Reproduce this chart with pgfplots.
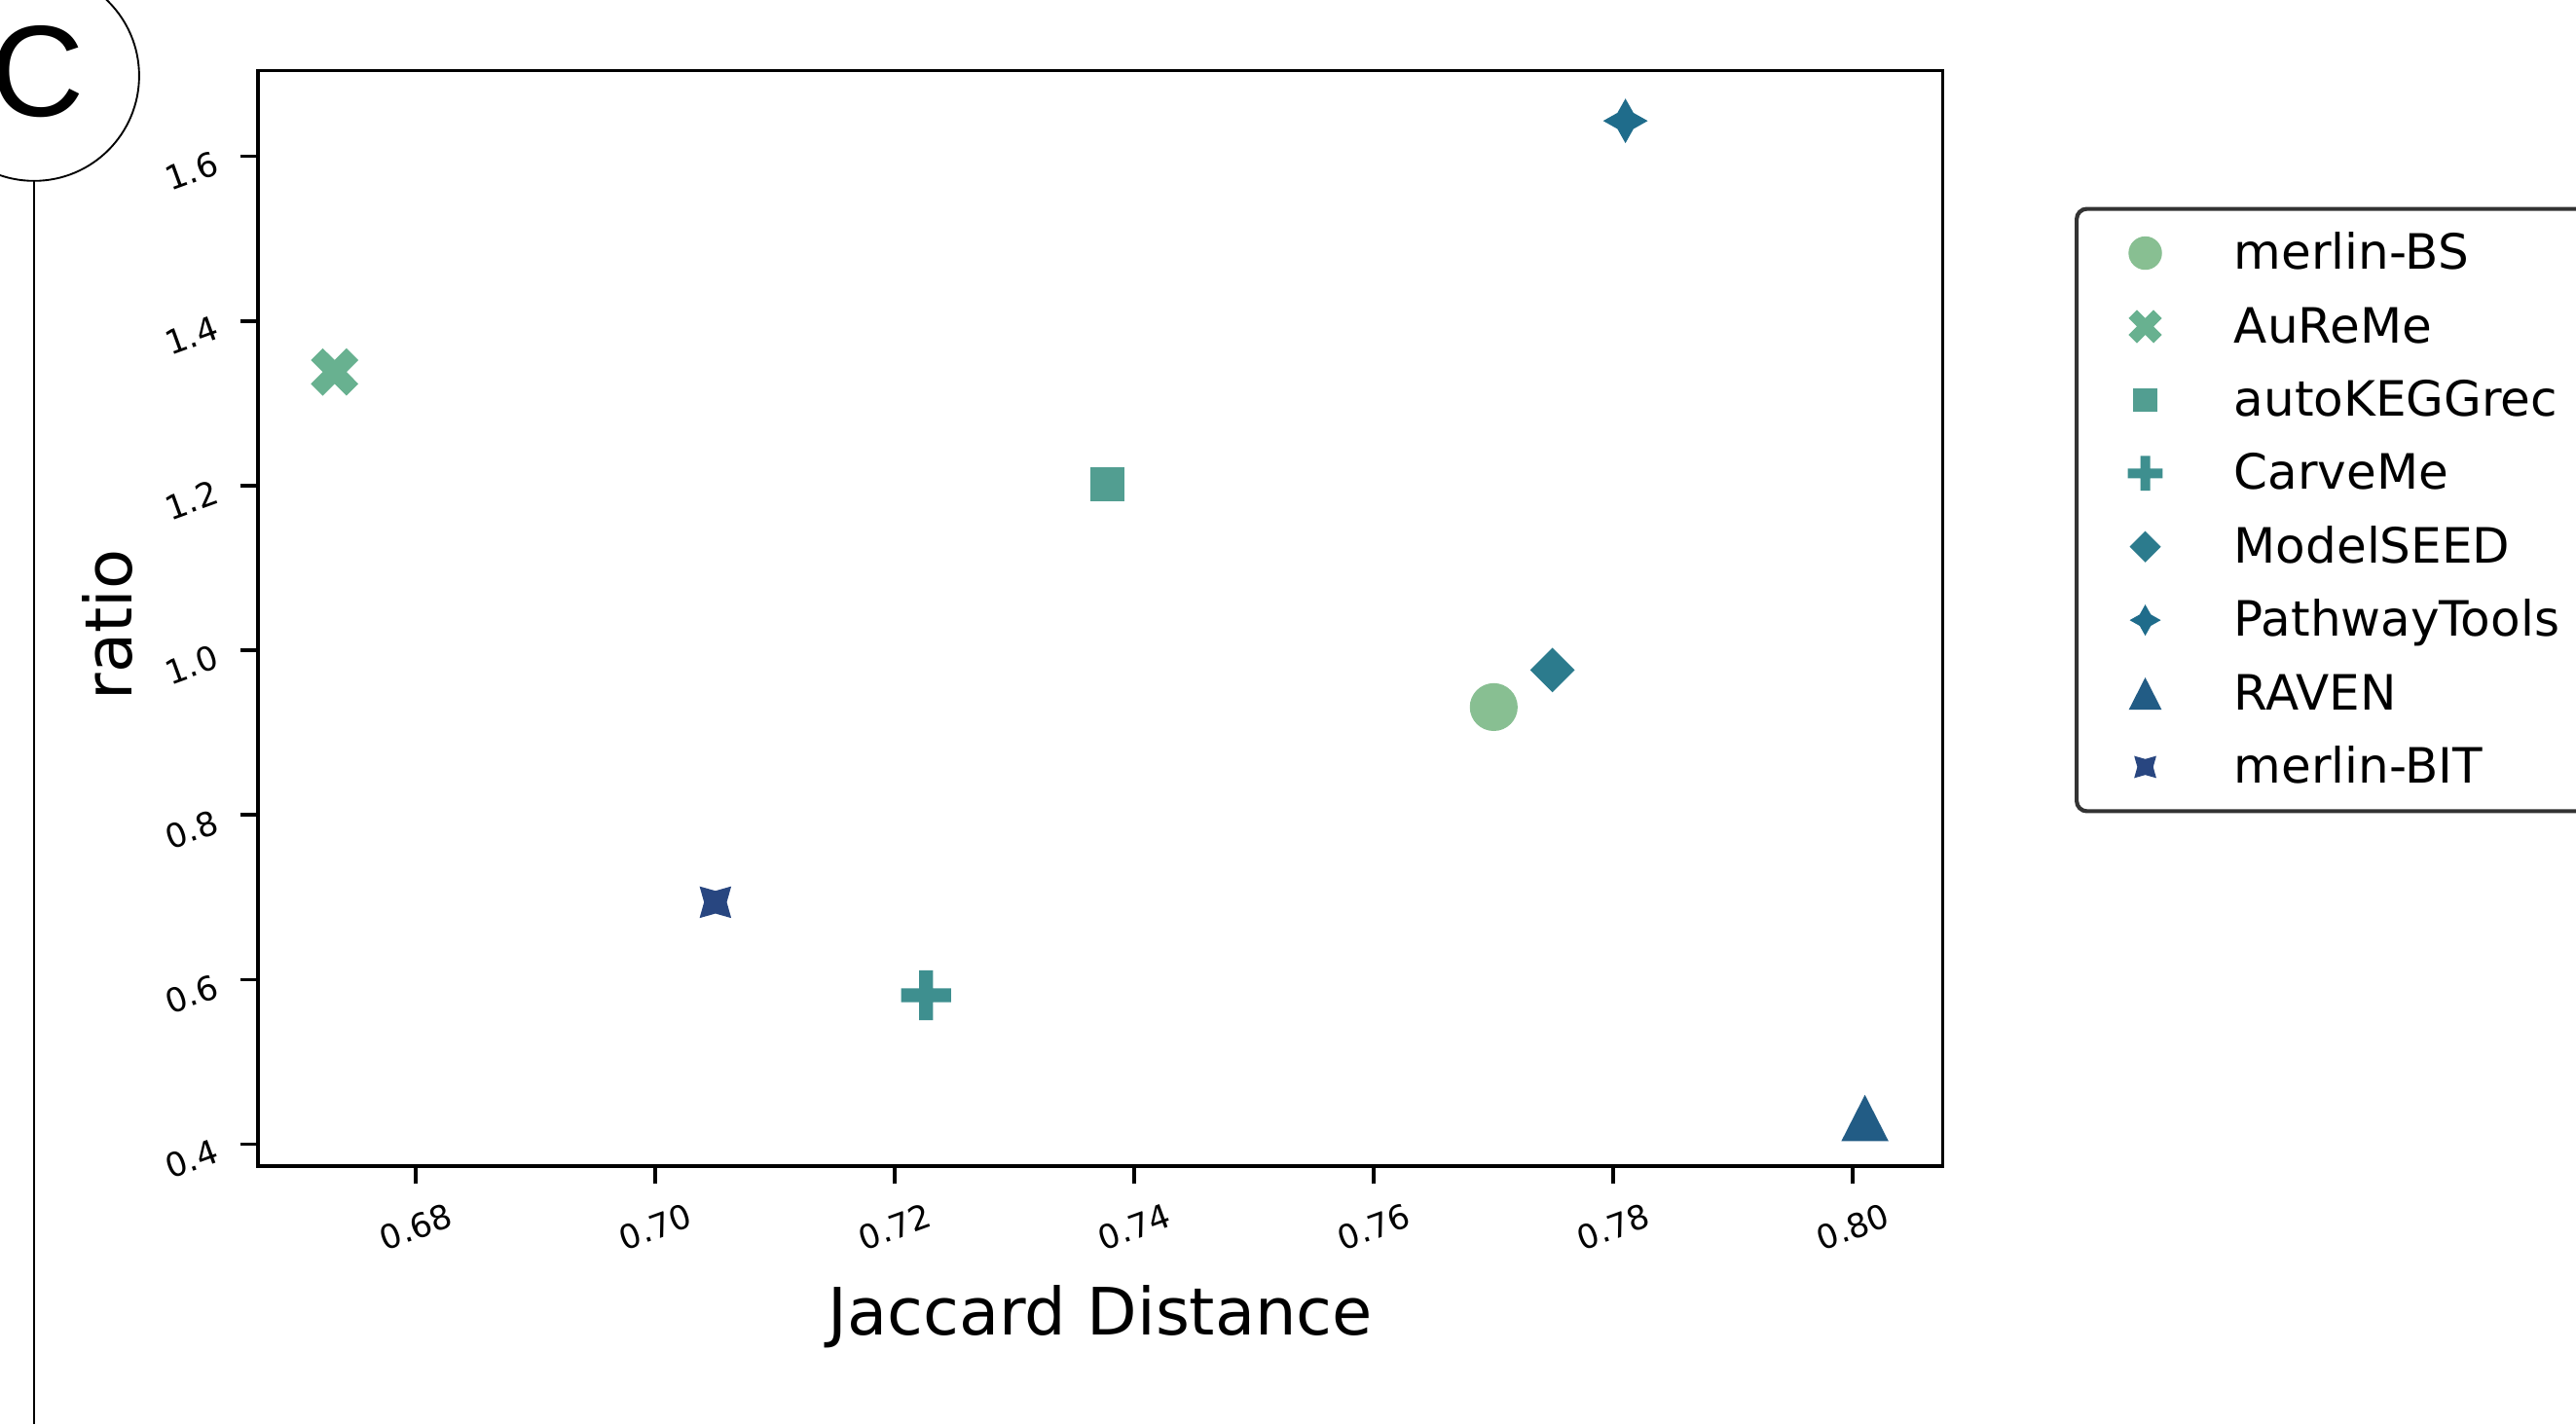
\documentclass[border=0pt]{standalone}
\usepackage{fontspec}
\setmainfont{DejaVu Sans}
\newfontfamily\panelfont{Liberation Sans}
\usepackage{pgfplots}
\pgfplotsset{compat=1.18}

\definecolor{cBS}{HTML}{88BF92}
\definecolor{cAuReMe}{HTML}{68B190}
\definecolor{cKEGG}{HTML}{529E91}
\definecolor{cCarve}{HTML}{3E8F8F}
\definecolor{cSEED}{HTML}{2C7B8D}
\definecolor{cPath}{HTML}{1F6C8B}
\definecolor{cRaven}{HTML}{225C85}
\definecolor{cBIT}{HTML}{284680}

% seaborn-like filled markers
\pgfdeclareplotmark{mdot}{\pgfsetcornersarced{\pgfpointorigin}%
  \pgfpathcircle{\pgfpointorigin}{5.9pt}\pgfusepathqfill}
\pgfdeclareplotmark{msquare}{\pgfsetcornersarced{\pgfpointorigin}%
  \pgfpathrectangle{\pgfqpoint{-4.2pt}{-4.2pt}}{\pgfqpoint{8.4pt}{8.4pt}}\pgfusepathqfill}
\pgfdeclareplotmark{mxfill}{\pgfsetcornersarced{\pgfpointorigin}%
  \pgfpathmoveto{\pgfqpoint{-2.93pt}{-5.85pt}}%
  \pgfpathlineto{\pgfqpoint{0pt}{-2.93pt}}%
  \pgfpathlineto{\pgfqpoint{2.93pt}{-5.85pt}}%
  \pgfpathlineto{\pgfqpoint{5.85pt}{-2.93pt}}%
  \pgfpathlineto{\pgfqpoint{2.93pt}{0pt}}%
  \pgfpathlineto{\pgfqpoint{5.85pt}{2.93pt}}%
  \pgfpathlineto{\pgfqpoint{2.93pt}{5.85pt}}%
  \pgfpathlineto{\pgfqpoint{0pt}{2.93pt}}%
  \pgfpathlineto{\pgfqpoint{-2.93pt}{5.85pt}}%
  \pgfpathlineto{\pgfqpoint{-5.85pt}{2.93pt}}%
  \pgfpathlineto{\pgfqpoint{-2.93pt}{0pt}}%
  \pgfpathlineto{\pgfqpoint{-5.85pt}{-2.93pt}}%
  \pgfpathclose\pgfusepathqfill}
\pgfdeclareplotmark{mplus}{\pgfsetcornersarced{\pgfpointorigin}%
  \pgfpathmoveto{\pgfqpoint{-1.7pt}{-6.15pt}}%
  \pgfpathlineto{\pgfqpoint{1.7pt}{-6.15pt}}%
  \pgfpathlineto{\pgfqpoint{1.7pt}{-1.7pt}}%
  \pgfpathlineto{\pgfqpoint{6.15pt}{-1.7pt}}%
  \pgfpathlineto{\pgfqpoint{6.15pt}{1.7pt}}%
  \pgfpathlineto{\pgfqpoint{1.7pt}{1.7pt}}%
  \pgfpathlineto{\pgfqpoint{1.7pt}{6.15pt}}%
  \pgfpathlineto{\pgfqpoint{-1.7pt}{6.15pt}}%
  \pgfpathlineto{\pgfqpoint{-1.7pt}{1.7pt}}%
  \pgfpathlineto{\pgfqpoint{-6.15pt}{1.7pt}}%
  \pgfpathlineto{\pgfqpoint{-6.15pt}{-1.7pt}}%
  \pgfpathlineto{\pgfqpoint{-1.7pt}{-1.7pt}}%
  \pgfpathclose\pgfusepathqfill}
\pgfdeclareplotmark{mdiamond}{\pgfsetcornersarced{\pgfpointorigin}%
  \pgfpathmoveto{\pgfqpoint{0pt}{-5.5pt}}%
  \pgfpathlineto{\pgfqpoint{5.5pt}{0pt}}%
  \pgfpathlineto{\pgfqpoint{0pt}{5.5pt}}%
  \pgfpathlineto{\pgfqpoint{-5.5pt}{0pt}}%
  \pgfpathclose\pgfusepathqfill}
\pgfdeclareplotmark{mstar}{\pgfsetcornersarced{\pgfpointorigin}%
  \pgfpathmoveto{\pgfqpoint{0pt}{-5.5pt}}%
  \pgfpathlineto{\pgfqpoint{1.98pt}{-1.98pt}}%
  \pgfpathlineto{\pgfqpoint{5.5pt}{0pt}}%
  \pgfpathlineto{\pgfqpoint{1.98pt}{1.98pt}}%
  \pgfpathlineto{\pgfqpoint{0pt}{5.5pt}}%
  \pgfpathlineto{\pgfqpoint{-1.98pt}{1.98pt}}%
  \pgfpathlineto{\pgfqpoint{-5.5pt}{0pt}}%
  \pgfpathlineto{\pgfqpoint{-1.98pt}{-1.98pt}}%
  \pgfpathclose\pgfusepathqfill}
\pgfdeclareplotmark{mstarx}{\pgfsetcornersarced{\pgfpointorigin}%
  \pgfpathmoveto{\pgfqpoint{-3.9pt}{-3.9pt}}%
  \pgfpathlineto{\pgfqpoint{0pt}{-2.8pt}}%
  \pgfpathlineto{\pgfqpoint{3.9pt}{-3.9pt}}%
  \pgfpathlineto{\pgfqpoint{2.8pt}{0pt}}%
  \pgfpathlineto{\pgfqpoint{3.9pt}{3.9pt}}%
  \pgfpathlineto{\pgfqpoint{0pt}{2.8pt}}%
  \pgfpathlineto{\pgfqpoint{-3.9pt}{3.9pt}}%
  \pgfpathlineto{\pgfqpoint{-2.8pt}{0pt}}%
  \pgfpathclose\pgfusepathqfill}
\pgfdeclareplotmark{mtri}{\pgfsetcornersarced{\pgfpointorigin}%
  \pgfpathmoveto{\pgfqpoint{0pt}{5.7pt}}%
  \pgfpathlineto{\pgfqpoint{-5.8pt}{-5.7pt}}%
  \pgfpathlineto{\pgfqpoint{5.8pt}{-5.7pt}}%
  \pgfpathclose\pgfusepathqfill}

\begin{document}
\begin{tikzpicture}
\useasboundingbox (0,0) rectangle (635pt,351.1pt);
\clip (0,0) rectangle (635pt,351.1pt);

% panel label
\draw[line width=0.45pt] (8.4pt,332.4pt) circle[radius=25.9pt];
\draw[line width=0.45pt] (8.4pt,306.5pt) -- (8.4pt,0pt);
\node[inner sep=0pt, anchor=center] at (9.2pt,333.5pt) {\panelfont\fontsize{32}{32}\selectfont C};

\begin{axis}[
  at={(63.6pt,63.6pt)}, anchor=south west,
  scale only axis, width=415.3pt, height=270.1pt,
  xmin=0.6668, xmax=0.8075, ymin=0.3735, ymax=1.7041,
  axis line style={line width=0.8pt},
  tick align=outside, xtick pos=lower, ytick pos=left,
  major tick length=4.4pt,
  tick style={line width=0.9pt, black},
  xtick={0.68,0.70,0.72,0.74,0.76,0.78,0.80},
  xticklabels={0.68,0.70,0.72,0.74,0.76,0.78,0.80},
  ytick={0.4,0.6,0.8,1.0,1.2,1.4,1.6},
  yticklabels={0.4,0.6,0.8,1.0,1.2,1.4,1.6},
  tick label style={font=\fontsize{8.2}{9.8}\selectfont, inner sep=0pt},
  xticklabel style={anchor=center, yshift=-10.6pt, rotate=20},
  yticklabel style={anchor=center, xshift=-12pt, yshift=-3.6pt, rotate=20},
  xlabel={Jaccard Distance}, ylabel={ratio},
  label style={font=\fontsize{16.1}{19}\selectfont, inner sep=0pt},
  xlabel style={at={(axis description cs:0.5,-0.1545)}, anchor=base},
  ylabel style={at={(axis description cs:-0.0751,0.494)}, anchor=base},
  legend cell align=left,
  legend image code/.code={\path (-6pt,0pt) (6pt,0pt); \draw[#1] plot coordinates {(0pt,0pt)};},
  legend style={at={(axis description cs:1.0783,0.8756)}, anchor=north west,
    draw=black!80, line width=1pt, rounded corners=2.5pt, fill=white,
    inner xsep=10.4pt, inner ysep=6.1pt, row sep=8.5pt, column sep=15.4pt,
    font=\fontsize{12}{14.4}\selectfont,
    nodes={inner sep=0pt, text height=8.8pt, text depth=0.8pt}},
]
% Jaccard distance vs ratio, one point per tool
\addplot[only marks, mark=mdot, color=cBS, forget plot] coordinates {(0.7700,0.931)};
\addplot[only marks, mark=mxfill, color=cAuReMe, forget plot] coordinates {(0.6732,1.338)};
\addplot[only marks, mark=msquare, color=cKEGG, forget plot] coordinates {(0.7377,1.202)};
\addplot[only marks, mark=mplus, color=cCarve, forget plot] coordinates {(0.7226,0.581)};
\addplot[only marks, mark=mdiamond, color=cSEED, forget plot] coordinates {(0.7749,0.976)};
\addplot[only marks, mark=mstar, color=cPath, forget plot] coordinates {(0.7810,1.643)};
\addplot[only marks, mark=mtri, color=cRaven, forget plot] coordinates {(0.8010,0.432)};
\addplot[only marks, mark=mstarx, color=cBIT, forget plot] coordinates {(0.7050,0.694)};

\addlegendimage{only marks, mark=mdot, color=cBS, mark options={scale=0.7}}
\addlegendentry{merlin-BS}
\addlegendimage{only marks, mark=mxfill, color=cAuReMe, mark options={scale=0.7}}
\addlegendentry{AuReMe}
\addlegendimage{only marks, mark=msquare, color=cKEGG, mark options={scale=0.7}}
\addlegendentry{autoKEGGrec}
\addlegendimage{only marks, mark=mplus, color=cCarve, mark options={scale=0.7}}
\addlegendentry{CarveMe}
\addlegendimage{only marks, mark=mdiamond, color=cSEED, mark options={scale=0.7}}
\addlegendentry{ModelSEED}
\addlegendimage{only marks, mark=mstar, color=cPath, mark options={scale=0.7}}
\addlegendentry{PathwayTools}
\addlegendimage{only marks, mark=mtri, color=cRaven, mark options={scale=0.7}}
\addlegendentry{RAVEN}
\addlegendimage{only marks, mark=mstarx, color=cBIT, mark options={scale=0.7}}
\addlegendentry{merlin-BIT}
\end{axis}
\end{tikzpicture}
\end{document}
